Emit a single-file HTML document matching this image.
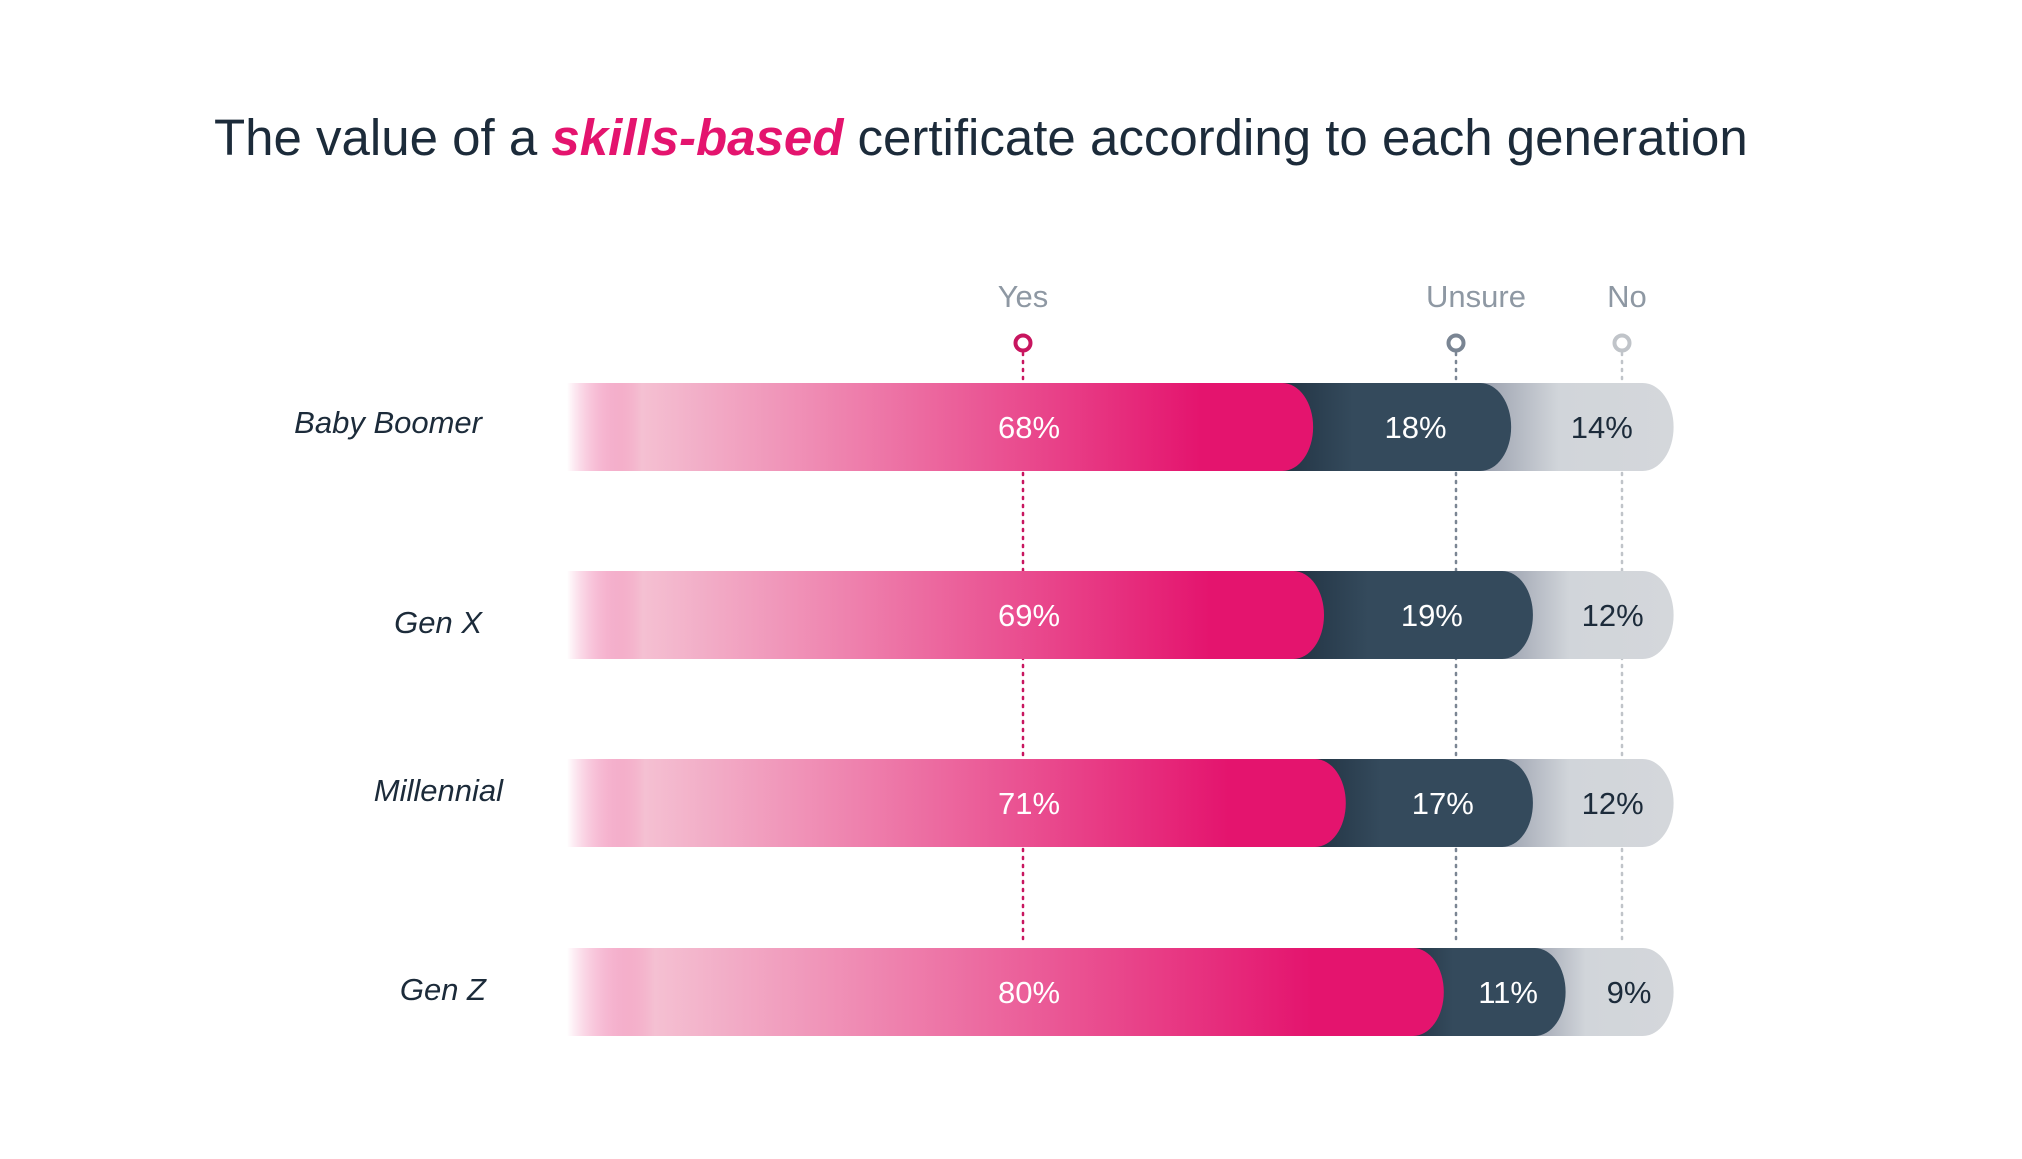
<!DOCTYPE html>
<html><head><meta charset="utf-8"><style>
body{margin:0;background:#fff;}
svg text{font-family:"Liberation Sans",sans-serif;}
</style></head><body>
<svg width="2022" height="1154" viewBox="0 0 2022 1154" xmlns="http://www.w3.org/2000/svg">
<defs>
<linearGradient id="gp" x1="0" x2="1"><stop offset="0" stop-color="#e4146e" stop-opacity="0"/><stop offset="0.1" stop-color="#f4c0d2"/><stop offset="0.85" stop-color="#e4146e"/><stop offset="1" stop-color="#e4146e"/></linearGradient>
<linearGradient id="gd" x1="0" x2="1"><stop offset="0" stop-color="#1a2938"/><stop offset="0.4" stop-color="#344a5c"/><stop offset="1" stop-color="#344a5c"/></linearGradient>
<linearGradient id="gg" x1="0" x2="1"><stop offset="0" stop-color="#7f8698"/><stop offset="0.5" stop-color="#d1d5da"/><stop offset="1" stop-color="#d4d7db"/></linearGradient>
</defs>
<text x="214" y="155" font-size="51" fill="#1c2b3a">The value of a <tspan fill="#e4146e" font-weight="bold" font-style="italic">skills-based</tspan> certificate according to each generation</text>
<g id="legend"></g>
<g id="bars"></g>
</svg>
<script>
const categories=["Baby Boomer","Gen X","Millennial","Gen Z"];
const yes=[68,69,71,80];
const unsure=[18,19,17,11];
const no=[14,12,12,9];
const seriesNames=["Yes","Unsure","No"];
const NS="http://www.w3.org/2000/svg";
const X0=567,W=1089,H=88;
const rowY=[427,615,803,992];
const labelX=[482,482,503,486];
const labelDy=[-4,8,-12,-2];
function x(v){return X0+v/100*W;}
function mk(t,a,p){const e=document.createElementNS(NS,t);for(const k in a)e.setAttribute(k,a[k]);p.appendChild(e);return e;}
const lg=document.getElementById('legend'),bg=document.getElementById('bars');
const legX=[1023,1456,1622],legCol=["#c8155f","#7a8593","#c0c4c9"];
legX.forEach((lx,i)=>{
 const l=mk('line',{x1:lx,y1:353,x2:lx,y2:945,stroke:legCol[i],'stroke-width':2.5,'stroke-dasharray':'2 6','stroke-linecap':'round'},lg);
 
 
 const c=mk('circle',{cx:lx,cy:343,r:7.5,fill:'#fff',stroke:legCol[i],'stroke-width':4},lg);
 
 
 const t=mk('text',{x:lx+(i==1?20:i==2?5:0),y:307,'font-size':31,fill:'#8e98a3','text-anchor':'middle'},lg);
 t.textContent=seriesNames[i];
 
 
});
function seg(x1,x2,y,fill){
 const r=H/2;
 return `M${x1},${y-r}L${x2-r},${y-r}A${r*0.7},${r} 0 0 1 ${x2-r},${y+r}L${x1},${y+r}Z`;
}
categories.forEach((c,i)=>{
 const y=rowY[i];
 const e1=x(yes[i]),e2=x(yes[i]+unsure[i]),e3=x(yes[i]+unsure[i]+no[i]);
 const g=mk('path',{d:seg(e2-60,e3+H/2*0.7,y),fill:'url(#gg)'},bg);
 
 
 const d=mk('path',{d:seg(e1-60,e2+H/2*0.7-10,y),fill:'url(#gd)'},bg);
 
 
 const p=mk('path',{d:seg(X0,e1+H/2*0.7-12,y),fill:'url(#gp)'},bg);
 
 
 const t1=mk('text',{x:1029,y:y+11,'font-size':31,fill:'#fff','text-anchor':'middle'},bg);
 t1.textContent=yes[i]+'%';
 
 
 const t2=mk('text',{x:(e1+e2)/2+10,y:y+11,'font-size':31,fill:'#fff','text-anchor':'middle'},bg);
 t2.textContent=unsure[i]+'%';
 
 
 const t3=mk('text',{x:(e2+e3)/2+22,y:y+11,'font-size':31,fill:'#1c2b3a','text-anchor':'middle'},bg);
 t3.textContent=no[i]+'%';
 
 
 const cl=mk('text',{x:labelX[i],y:y+labelDy[i]+10,'font-size':31,'font-style':'italic',fill:'#1c2b3a','text-anchor':'end'},bg);
 cl.textContent=c;
 
 
});
</script>
</body></html>
